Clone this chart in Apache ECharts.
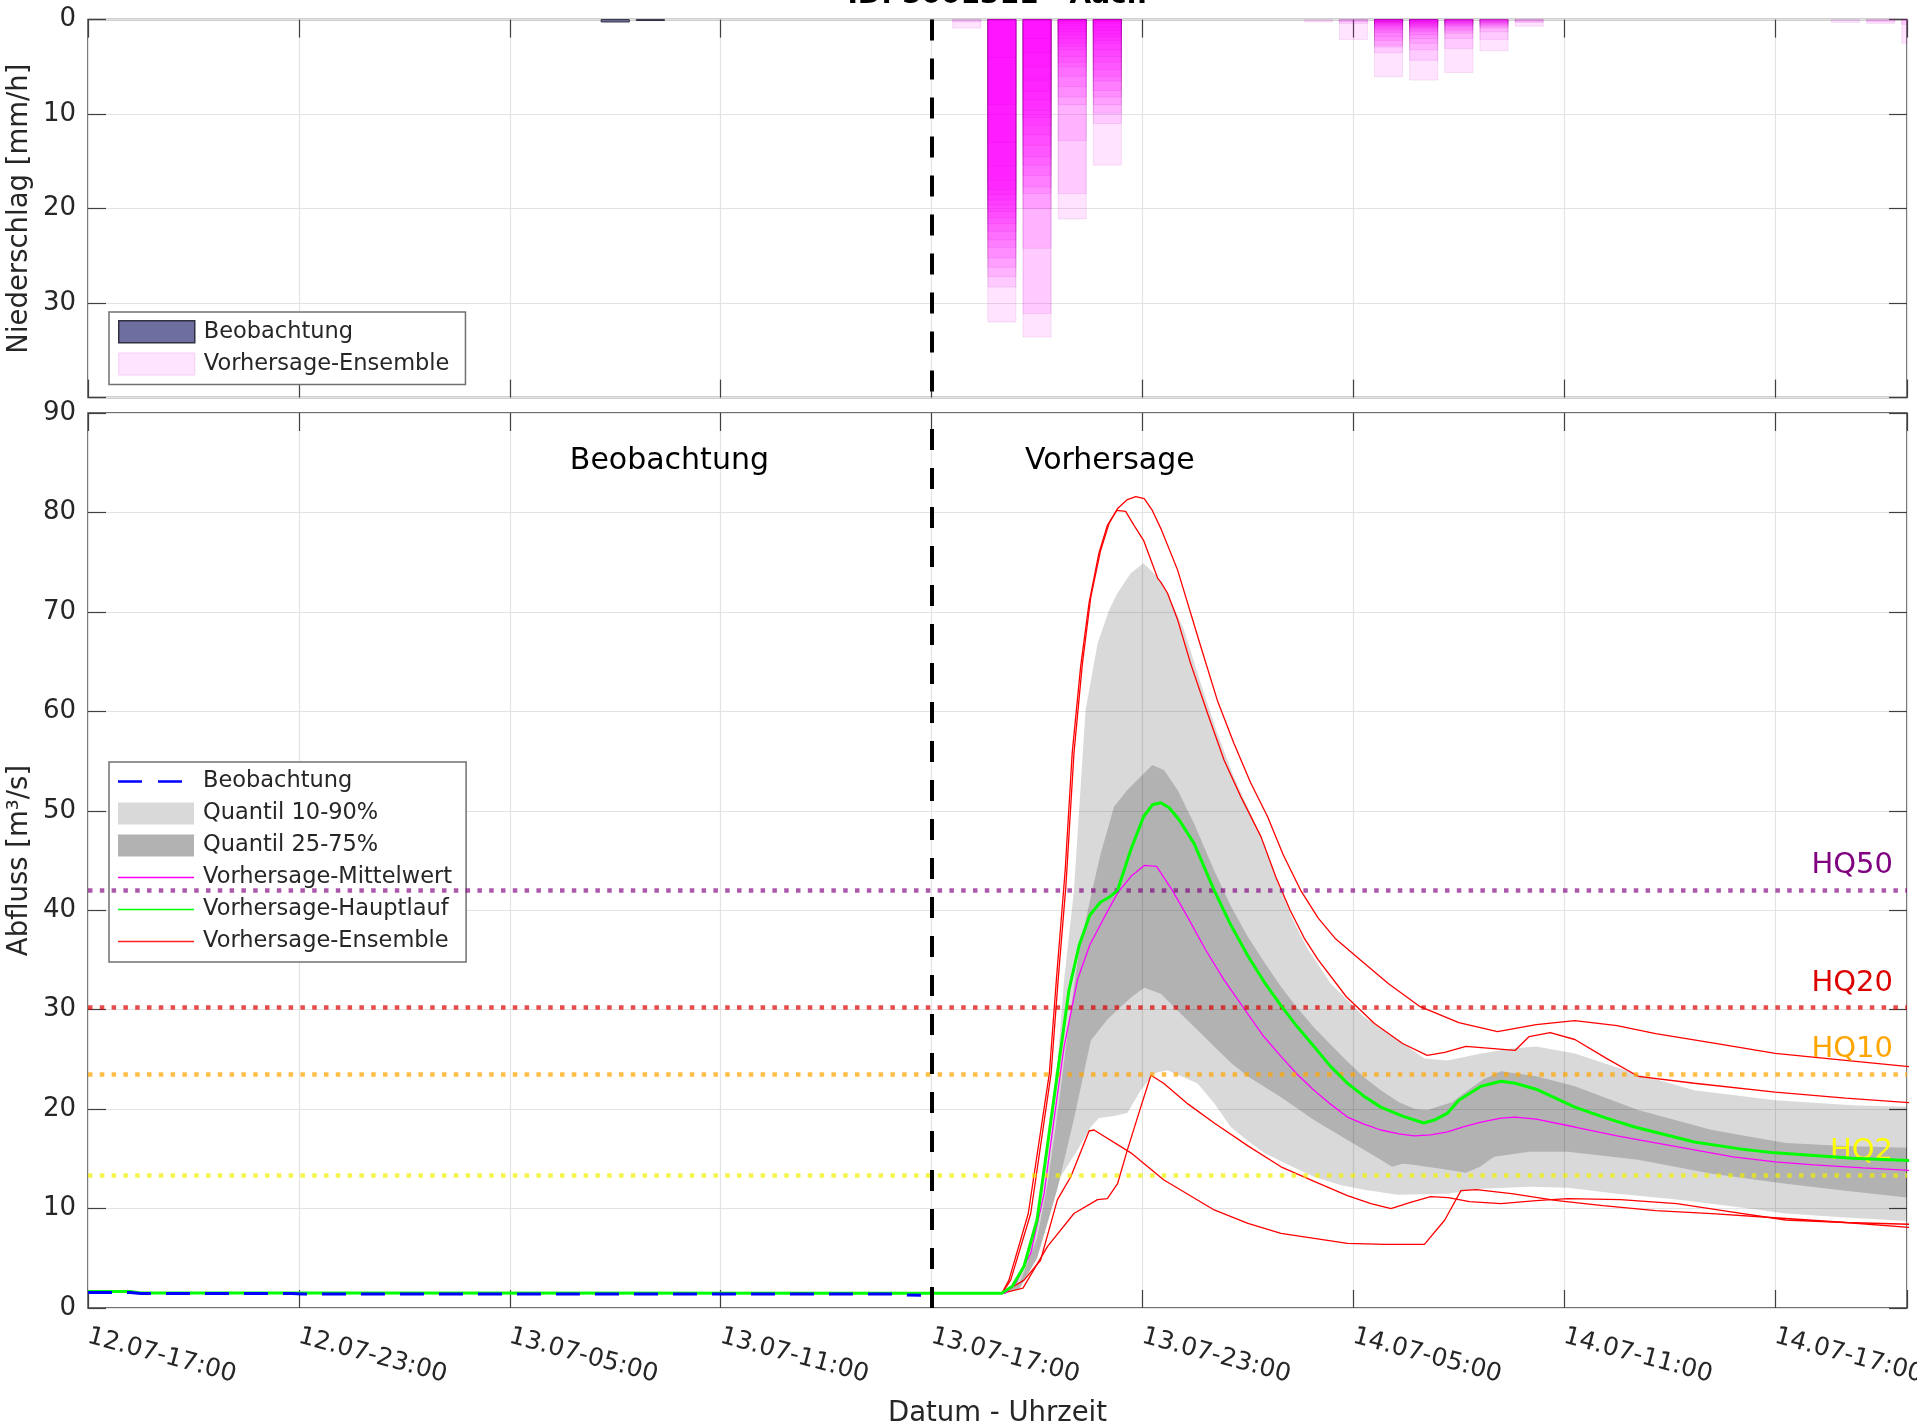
<!DOCTYPE html>
<html>
<head>
<meta charset="utf-8">
<title>ID: 5001311 - Aach</title>
<script src="https://cdn.jsdelivr.net/npm/echarts@6/dist/echarts.min.js"></script>
<style>
  html, body { margin: 0; padding: 0; background: #fff; }
  #chart { width: 1917px; height: 1423px; }
</style>
</head>
<body>
<div id="chart"></div>
<script>
// Zeitachse in Stunden ab 12.07 17:00
var startDay = 12, startHour = 17;
var forecastStart = 24;
var hoursShown = 51.75;

// Niederschlag (mm/h), Ensemble-Mitglieder je Stunde
var ensHours = [25, 26, 27, 28, 29, 35, 36, 37, 38, 39, 40, 41, 50, 51, 52];
var ensPrecip = [
	[0.9, 0.25],
	[32.0, 28.3, 27.2, 26.2, 25.2, 24.1, 23.3, 22.4, 21.6, 21.0, 20.3, 19.6, 19.1, 18.5, 18.0, 17.0, 15.5, 13.0, 9.0, 4.0],
	[33.6, 31.1, 24.2, 20.0, 18.4, 17.7, 16.5, 15.4, 14.5, 13.3, 12.2, 11.2, 10.4, 9.6, 8.5, 7.6, 6.4, 5.0, 3.5, 2.0],
	[21.1, 18.4, 12.8, 9.0, 8.2, 7.1, 6.0, 5.0, 4.5, 3.9, 3.2, 2.8, 2.5, 2.0, 1.6, 1.3, 1.0, 0.7, 0.4, 0.2],
	[15.4, 11.0, 9.9, 9.0, 8.2, 7.5, 6.5, 6.0, 5.3, 4.5, 3.9, 3.2, 2.5, 2.2, 1.8, 1.5, 1.1, 0.8, 0.4, 0.2],
	[0.25],
	[2.1, 0.4, 0.2],
	[6.05, 3.5, 2.9, 2.7, 2.2, 1.8, 1.35, 1.1, 0.9, 0.7, 0.6, 0.5, 0.4, 0.35, 0.3, 0.25, 0.2, 0.15],
	[6.4, 4.3, 3.2, 2.5, 2.0, 1.6, 1.3, 1.1, 0.9, 0.8, 0.7, 0.6, 0.5, 0.4, 0.35, 0.3, 0.2, 0.15],
	[5.6, 3.05, 2.0, 1.45, 1.2, 1.0, 0.75, 0.6, 0.5, 0.4, 0.35, 0.3, 0.2, 0.15],
	[3.3, 2.1, 1.3, 0.9, 0.75, 0.6, 0.5, 0.4, 0.3, 0.25, 0.2],
	[0.7, 0.3, 0.2],
	[0.3],
	[0.4, 0.2],
	[2.5, 0.5]
];
var obsPrecipHours = [15, 16];
var obsPrecip = [0.25, 0.1];

// Abfluss (m3/s) als [Stunde, Wert]
var obsFlow = [[0, 1.55], [1.2, 1.55], [1.5, 1.45], [5.8, 1.45], [6.1, 1.41], [23, 1.41], [23.3, 1.3], [23.7, 1.28]];

var mainRun = [[0, 1.65], [1.2, 1.65], [1.5, 1.52], [6, 1.5], [24, 1.48], [26, 1.48], [26.3, 2.2], [26.63, 4.2], [27.0, 8.85],
	[27.29, 16.2], [27.58, 23.6], [27.91, 32.0], [28.2, 36.5], [28.5, 39.5], [28.8, 40.8], [29.05, 41.3], [29.29, 42.0],
	[29.67, 46.1], [30.03, 49.4], [30.28, 50.6], [30.52, 50.8], [30.76, 50.3], [31.04, 49.1], [31.47, 46.7], [32.04, 42.0],
	[32.5, 38.6], [33.0, 35.4], [33.46, 32.8], [33.94, 30.4], [34.4, 28.3], [34.88, 26.3], [35.35, 24.3], [35.83, 22.6],
	[36.3, 21.3], [36.78, 20.2], [37.4, 19.3], [38.0, 18.6], [38.3, 18.9], [38.68, 19.6], [39.0, 20.9], [39.63, 22.3],
	[40.2, 22.8], [40.6, 22.6], [41.2, 22.0], [42.3, 20.2], [43.2, 19.1], [44.0, 18.2], [45.7, 16.7], [47, 16.0],
	[48.0, 15.6], [50.2, 15.05], [52, 14.8]];

var meanRun = [[24, 1.48], [26.1, 1.48], [26.4, 2.5], [26.82, 5.5], [27.2, 11.5], [27.48, 18.9], [27.77, 26.3], [28.15, 33.0],
	[28.5, 36.5], [28.9, 39.2], [29.3, 41.8], [29.7, 43.5], [30.05, 44.5], [30.4, 44.4], [30.85, 42.0], [31.3, 39.2],
	[31.8, 36.0], [32.32, 33.0], [32.99, 29.6], [33.45, 27.3], [33.94, 25.3], [34.4, 23.5], [34.88, 21.9], [35.35, 20.5],
	[35.83, 19.2], [36.3, 18.5], [36.78, 17.9], [37.3, 17.5], [37.73, 17.3], [38.2, 17.4], [38.68, 17.7], [39.1, 18.2],
	[39.63, 18.7], [40.2, 19.1], [40.6, 19.2], [41.2, 19.0], [42.3, 18.2], [43.5, 17.3], [44.6, 16.6], [45.7, 15.9],
	[46.8, 15.2], [48, 14.7], [49.1, 14.4], [50.5, 14.1], [52, 13.8]];

var q90 = [[24, 1.48], [26, 1.5], [26.5, 3.0], [27.0, 9.5], [27.29, 16.2], [27.58, 24.6], [27.77, 33.0], [28.05, 42.0],
	[28.38, 60.1], [28.72, 66.8], [29.05, 70.2], [29.29, 71.9], [29.67, 73.9], [30.03, 74.9], [30.43, 73.5], [30.71, 71.9],
	[31.18, 68.2], [31.66, 62.8], [32.13, 57.8], [32.6, 53.4], [33.08, 49.7], [33.46, 46.7], [33.9, 42.3], [34.3, 38.9],
	[34.7, 36.1], [35.36, 32.6], [36.3, 29.3], [37.26, 27.0], [38.02, 25.1], [38.68, 24.9], [39.63, 25.6], [40.5, 26.1],
	[41.2, 26.3], [42.3, 25.6], [44.0, 23.6], [45.7, 21.9], [48.0, 20.9], [50.2, 20.4], [52, 20.2]];
var q10 = [[24, 1.48], [26, 1.48], [26.5, 2.0], [27.0, 5.0], [27.3, 8.5], [27.67, 13.2], [28.15, 15.9], [28.53, 18.2],
	[28.76, 19.1], [29.2, 19.3], [29.57, 19.6], [29.95, 21.9], [30.33, 23.6], [30.71, 23.9], [31.09, 23.3], [31.56, 22.6],
	[32.04, 20.6], [32.51, 18.2], [33.0, 16.8], [33.46, 15.6], [34.2, 14.3], [34.88, 13.2], [35.6, 12.4], [36.3, 11.9],
	[37.26, 11.4], [38.68, 11.5], [39.63, 12.0], [41.0, 12.2], [42.1, 12.1], [43.5, 11.5], [45.2, 10.9], [46.8, 10.2],
	[48.3, 9.5], [50, 9.1], [52, 8.7]];
var q75 = [[24, 1.48], [26, 1.48], [26.5, 2.5], [27.0, 7.0], [27.3, 12.5], [27.6, 20.0], [27.9, 28.5], [28.2, 36.0],
	[28.57, 42.0], [28.81, 45.7], [29.19, 50.4], [29.57, 52.1], [30.05, 53.8], [30.28, 54.6], [30.61, 54.1], [31.0, 52.1],
	[31.47, 48.7], [32.04, 44.0], [32.5, 40.5], [33.0, 37.3], [33.46, 34.8], [33.94, 32.3], [34.4, 30.2], [34.88, 28.2],
	[35.35, 26.5], [35.83, 24.8], [36.3, 23.2], [36.78, 21.9], [37.3, 20.7], [37.75, 20.0], [38.1, 19.9], [38.8, 20.7],
	[39.3, 22.0], [39.7, 23.0], [40.2, 23.8], [41.2, 23.3], [42.3, 22.3], [44.1, 19.9], [46.2, 17.9], [48.3, 16.6],
	[50, 16.3], [52, 16.1]];
var q25 = [[24, 1.48], [26, 1.48], [26.5, 1.9], [27.0, 5.0], [27.58, 12.0], [28.05, 19.0], [28.53, 26.9], [29.0, 29.0],
	[29.38, 30.3], [29.7, 31.3], [30.05, 32.2], [30.52, 31.6], [31.09, 29.6], [31.55, 28.0], [32.04, 26.3], [32.5, 24.7],
	[32.99, 23.3], [33.94, 21.2], [34.88, 18.9], [35.83, 16.9], [36.78, 14.9], [37.1, 14.2], [37.4, 14.5], [37.7, 14.4],
	[38.68, 13.9], [39.2, 13.6], [39.6, 14.2], [40.0, 15.2], [41.0, 15.7], [42.1, 15.7], [44.1, 14.9], [46.2, 13.5],
	[48.3, 12.5], [50, 11.8], [52, 11.0]];

var ens1 = [[24, 1.48], [26, 1.48], [26.25, 2.8], [26.82, 9.5], [27.4, 23.6], [27.6, 33.0], [27.82, 42.4], [28.05, 55.8],
	[28.29, 64.8], [28.53, 71.5], [28.81, 76.2], [29.05, 78.9], [29.29, 80.4], [29.57, 81.3], [29.81, 81.6], [30.05, 81.4],
	[30.28, 80.2], [30.52, 78.4], [31.0, 74.2], [31.66, 66.5], [32.13, 61.1], [32.6, 56.8], [33.08, 52.8], [33.56, 49.4],
	[34.0, 45.6], [34.5, 42.0], [35.0, 39.2], [35.5, 37.1], [36.2, 35.0], [37.0, 32.6], [37.9, 30.3], [39.0, 28.7],
	[40.1, 27.8], [41.2, 28.5], [42.3, 28.9], [43.5, 28.4], [44.6, 27.6], [46.3, 26.6], [48.0, 25.6], [50, 24.9], [52, 24.2]];
var ens2 = [[24, 1.48], [26, 1.48], [26.2, 2.8], [26.75, 9.5], [27.35, 23.6], [27.55, 33.0], [27.8, 44.0], [28.0, 55.8],
	[28.24, 64.5], [28.48, 70.9], [28.76, 75.9], [29.0, 78.7], [29.27, 80.2], [29.52, 80.1], [29.76, 78.7], [30.03, 77.2],
	[30.43, 73.4], [30.52, 73.0], [30.71, 71.9], [31.0, 69.2], [31.37, 64.8], [31.85, 59.8], [32.32, 55.1], [32.8, 51.4],
	[33.37, 47.4], [33.8, 43.3], [34.2, 40.0], [34.6, 37.2], [35.0, 35.0], [35.8, 31.3], [36.6, 28.6], [37.4, 26.6],
	[38.1, 25.4], [38.6, 25.7], [39.2, 26.3], [39.9, 26.1], [40.6, 25.9], [41.0, 27.3], [41.6, 27.7], [42.3, 27.0],
	[43.2, 25.1], [44.1, 23.3], [45.7, 22.6], [48, 21.7], [50, 21.1], [52, 20.6]];
var ens3 = [[24, 1.48], [26, 1.48], [26.63, 2.8], [27.1, 4.8], [27.58, 10.9], [27.96, 13.2], [28.48, 17.8], [28.62, 17.9],
	[29.67, 15.6], [30.6, 12.9], [32.04, 9.86], [33.0, 8.5], [33.94, 7.5], [35.83, 6.5], [36.9, 6.4], [38.02, 6.4],
	[38.6, 8.85], [39.06, 11.8], [39.5, 11.9], [40.5, 11.5], [41.8, 10.8], [43.1, 10.3], [44.6, 9.8], [46.2, 9.5],
	[48.3, 9.0], [50, 8.6], [52, 8.05]];
var ens4 = [[24, 1.48], [26, 1.48], [26.6, 2.0], [27.3, 6.2], [28.05, 9.5], [28.72, 10.9], [29.0, 11.0], [29.29, 12.5],
	[29.57, 15.9], [29.95, 20.2], [30.24, 23.4], [30.6, 22.6], [31.3, 20.5], [32.04, 18.6], [33.0, 16.3], [33.94, 14.2],
	[34.9, 12.7], [35.83, 11.3], [36.5, 10.5], [37.07, 10.0], [37.6, 10.6], [38.2, 11.2], [38.7, 11.1], [39.3, 10.7],
	[40.2, 10.5], [41.2, 10.8], [42.1, 11.0], [43.6, 10.9], [45.2, 10.5], [46.7, 9.7], [48.3, 8.85], [50, 8.6], [52, 8.4]];

// Hochwasser-Schwellen
var hqNames = ['HQ50', 'HQ20', 'HQ10', 'HQ2'];
var hqLevels = [42.0, 30.2, 23.5, 13.3];

var hqColors = ['#800080', '#dd0000', '#ffa500', '#ffff00'];
var hqDotColors = ['rgba(128,0,128,0.65)', 'rgba(221,0,0,0.7)', 'rgba(255,165,0,0.72)', 'rgba(240,240,0,0.7)'];
var font = 'DejaVu Sans';
var textColor = '#262626';

/**
 * @desc Stunde -> "TT.MM-HH:00"
 */
var timeLabel = function(h) {
	if(h % 6 !== 0) return '';
	var total = startHour + h;
	var day = startDay + Math.floor(total / 24);
	var hour = total % 24;
	return day + '.07-' + (hour < 10 ? '0' : '') + hour + ':00';
};

var clipRect = function(cs) {
	return { type: 'rect', shape: { x: cs.x, y: cs.y, width: cs.width, height: cs.height } };
};

// Flaeche zwischen zwei Quantilen als Polygon
var bandRenderer = function(fill) {
	return function(params, api) {
		if(params.dataIndexInside !== 0) return null;
		var pts = [];
		for(var i = 0; i < params.dataInsideLength; i++) {
			pts.push(api.coord([api.value(0, i), api.value(1, i)]));
		}
		return {
			type: 'polygon',
			shape: { points: pts },
			style: { fill: fill },
			clipPath: clipRect(params.coordSys)
		};
	};
};

// Niederschlagsbalken, von oben haengend
var precipRenderer = function(fill, stroke) {
	return function(params, api) {
		var t = api.value(0), v = api.value(1);
		var cs = params.coordSys;
		var a = api.coord([t - 0.4, 0]);
		var b = api.coord([t + 0.4, v]);
		var x1 = Math.min(b[0], cs.x + cs.width);
		return {
			type: 'rect',
			shape: { x: a[0], y: a[1], width: x1 - a[0], height: b[1] - a[1] },
			style: { fill: fill, stroke: stroke, lineWidth: 1 }
		};
	};
};

var ensData = [];
for(var i = 0; i < ensHours.length; i++) {
	for(var j = 0; j < ensPrecip[i].length; j++) {
		ensData.push([ensHours[i], ensPrecip[i][j]]);
	}
}
var obsPrecipData = obsPrecipHours.map(function(h, i) {
	return [h, obsPrecip[i]];
});

var hqMarks = hqNames.map(function(name, i) {
	return {
		name: name,
		yAxis: hqLevels[i],
		lineStyle: { color: hqDotColors[i], width: 4.5, type: [4.5, 7.3] },
		label: { color: hqColors[i] }
	};
});

var forecastLine = {
	silent: true,
	animation: false,
	symbol: ['none', 'none'],
	z: 10,
	label: { show: false },
	lineStyle: { color: '#000', width: 4, type: [21, 18] },
	data: [{ xAxis: forecastStart }]
};

var tickStyle = { show: true, inside: true, length: 18, lineStyle: { color: '#404040', width: 1.2 } };
var gridLine = { show: true, lineStyle: { color: '#e3e3e3', width: 1.2 } };

var xBase = function(grid, pos) {
	return {
		type: 'value', gridIndex: grid, position: pos, min: 0, max: hoursShown, interval: 6,
		axisLine: { show: false, onZero: false }, axisTick: tickStyle, axisLabel: { show: false },
		splitLine: { show: false }
	};
};
var yBase = function(grid, pos, max, inverse) {
	return {
		type: 'value', gridIndex: grid, position: pos, min: 0, max: max, interval: 10, inverse: inverse,
		axisLine: { show: false, onZero: false }, axisTick: tickStyle, axisLabel: { show: false },
		splitLine: { show: false }
	};
};

var xTop = xBase(0, 'bottom');
xTop.splitLine = gridLine;
var xBottom = xBase(1, 'bottom');
xBottom.splitLine = gridLine;
xBottom.axisLabel = {
	show: true, rotate: -15, margin: 28, fontSize: 25, color: textColor, fontFamily: font,
	formatter: timeLabel
};
xBottom.name = 'Datum - Uhrzeit';
xBottom.nameLocation = 'middle';
xBottom.nameGap = 92;
xBottom.nameMoveOverlap = false;
xBottom.nameTextStyle = { fontSize: 27.5, color: textColor, fontFamily: font };

var yTop = yBase(0, 'left', 40, true);
yTop.splitLine = gridLine;
yTop.axisLabel = {
	show: true, margin: 12, fontSize: 26, color: textColor, fontFamily: font,
	formatter: function(v) { return v === 40 ? '' : v; }
};
yTop.name = 'Niederschlag [mm/h]';
yTop.nameLocation = 'middle';
yTop.nameGap = 54;
yTop.nameMoveOverlap = false;
yTop.nameTextStyle = { fontSize: 27.5, color: textColor, fontFamily: font };

var yBottom = yBase(1, 'left', 90, false);
yBottom.splitLine = gridLine;
yBottom.axisLabel = { show: true, margin: 12, fontSize: 26, color: textColor, fontFamily: font };
yBottom.name = 'Abfluss [m³/s]';
yBottom.nameLocation = 'middle';
yBottom.nameGap = 54;
yBottom.nameMoveOverlap = false;
yBottom.nameTextStyle = { fontSize: 27.5, color: textColor, fontFamily: font };

var ensLine = function(data) {
	return {
		name: 'Vorhersage-Ensemble', type: 'line', xAxisIndex: 2, yAxisIndex: 2, data: data,
		symbol: 'none', z: 3, lineStyle: { color: '#ff0000', width: 1.3 }, itemStyle: { color: '#ff0000' }
	};
};

// Legenden-Symbole fuer Linien
var solidIcon = 'path://M0,0H76V1.6H0Z';
var dashIcon = 'path://M0,0H24V2.4H0Z M40,0H64V2.4H40Z M76,0L76,2.4';

var legendNames = {
	'N-Beobachtung': 'Beobachtung',
	'N-Ensemble': 'Vorhersage-Ensemble'
};

var chart = echarts.init(document.getElementById('chart'), null, { renderer: 'canvas', devicePixelRatio: 1 });
chart.setOption({
	animation: false,
	backgroundColor: '#fff',
	textStyle: { fontFamily: font },
	title: {
		text: 'ID: 5001311 - Aach',
		left: 992, top: -23, textAlign: 'center',
		textStyle: { fontSize: 28, fontWeight: 'bold', color: '#000', fontFamily: font }
	},
	grid: [{
		left: 88, right: 10, top: 19.6, height: 378,
		show: true, borderColor: '#404040', borderWidth: 1.5, outerBoundsMode: 'none'
	}, {
		left: 88, right: 10, top: 413, bottom: 115,
		show: true, borderColor: '#404040', borderWidth: 1.5, outerBoundsMode: 'none'
	}],
	xAxis: [xTop, xBase(0, 'top'), xBottom, xBase(1, 'top')],
	yAxis: [yTop, yBase(0, 'right', 40, true), yBottom, yBase(1, 'right', 90, false)],
	legend: [{
		orient: 'vertical', left: 109, top: 312, padding: [8, 16, 9, 9],
		itemGap: 9, itemWidth: 76, itemHeight: 22, selectedMode: false, symbolKeepAspect: true,
		backgroundColor: '#fff', borderColor: '#707070', borderWidth: 1.5,
		textStyle: { fontSize: 22.5, color: textColor, fontFamily: font, padding: [0, 0, 0, 4] },
		formatter: function(name) { return legendNames[name]; },
		data: [
			{ name: 'N-Beobachtung', icon: 'rect', itemStyle: { color: '#6e6ea0', borderColor: '#303040', borderWidth: 1.5 } },
			{ name: 'N-Ensemble', icon: 'rect', itemStyle: { color: '#ffe4ff', borderColor: '#f6cdf6', borderWidth: 1 } }
		]
	}, {
		orient: 'vertical', left: 109, top: 762, padding: [8, 14, 9, 9],
		itemGap: 9, itemWidth: 76, itemHeight: 22, selectedMode: false, symbolKeepAspect: true,
		backgroundColor: '#fff', borderColor: '#707070', borderWidth: 1.5,
		textStyle: { fontSize: 22.5, color: textColor, fontFamily: font, padding: [0, 0, 0, 4] },
		data: [
			{ name: 'Beobachtung', icon: dashIcon, itemStyle: { color: '#0000ff', borderWidth: 0 } },
			{ name: 'Quantil 10-90%', icon: 'rect', itemStyle: { color: '#d9d9d9', borderWidth: 0 } },
			{ name: 'Quantil 25-75%', icon: 'rect', itemStyle: { color: '#b2b2b2', borderWidth: 0 } },
			{ name: 'Vorhersage-Mittelwert', icon: solidIcon, itemStyle: { color: '#ff00ff', borderWidth: 0 } },
			{ name: 'Vorhersage-Hauptlauf', icon: solidIcon, itemStyle: { color: '#00ff00', borderWidth: 0 } },
			{ name: 'Vorhersage-Ensemble', icon: solidIcon, itemStyle: { color: '#ff2020', borderWidth: 0 } }
		]
	}],
	series: [{
		name: 'N-Ensemble', type: 'custom', xAxisIndex: 0, yAxisIndex: 0,
		data: ensData, z: 2,
		itemStyle: { color: '#ffe4ff' },
		renderItem: precipRenderer('rgba(255,0,255,0.11)', 'rgba(160,0,160,0.10)'),
		markLine: forecastLine
	}, {
		name: 'N-Beobachtung', type: 'custom', xAxisIndex: 0, yAxisIndex: 0,
		data: obsPrecipData, z: 3,
		itemStyle: { color: '#6e6ea0' },
		renderItem: precipRenderer('#6e6ea0', '#303040')
	}, {
		name: 'Quantil 10-90%', type: 'custom', xAxisIndex: 2, yAxisIndex: 2,
		data: q90.concat(q10.slice().reverse()), z: 1,
		itemStyle: { color: '#d9d9d9' },
		renderItem: bandRenderer('rgba(0,0,0,0.15)')
	}, {
		name: 'Quantil 25-75%', type: 'custom', xAxisIndex: 2, yAxisIndex: 2,
		data: q75.concat(q25.slice().reverse()), z: 1,
		itemStyle: { color: '#b2b2b2' },
		renderItem: bandRenderer('rgba(0,0,0,0.18)')
	},
	ensLine(ens1), ensLine(ens2), ensLine(ens3), ensLine(ens4),
	{
		name: 'Vorhersage-Mittelwert', type: 'line', xAxisIndex: 2, yAxisIndex: 2, data: meanRun,
		symbol: 'none', z: 4, lineStyle: { color: '#ff00ff', width: 1.3 }, itemStyle: { color: '#ff00ff' },
		markLine: {
			silent: true, animation: false, symbol: ['none', 'none'],
			label: {
				show: true, position: 'insideEndTop', formatter: '{b}', distance: [14, 10],
				fontSize: 29, fontFamily: font
			},
			data: hqMarks
		}
	}, {
		name: 'Vorhersage-Hauptlauf', type: 'line', xAxisIndex: 2, yAxisIndex: 2, data: mainRun,
		symbol: 'none', z: 5, lineStyle: { color: '#00ff00', width: 3 }, itemStyle: { color: '#00ff00' }
	}, {
		name: 'Beobachtung', type: 'line', xAxisIndex: 2, yAxisIndex: 2, data: obsFlow,
		symbol: 'none', z: 6, lineStyle: { color: '#0000ff', width: 3, type: [24, 15] }, itemStyle: { color: '#0000ff' },
		markLine: forecastLine,
		markPoint: {
			silent: true, animation: false, symbol: 'circle', symbolSize: 1,
			itemStyle: { color: 'rgba(0,0,0,0)' },
			label: { show: true, position: 'inside', formatter: '{b}', fontSize: 30, color: '#000', fontFamily: font },
			data: [
				{ name: 'Beobachtung', coord: [16.54, 85.2] },
				{ name: 'Vorhersage', coord: [29.07, 85.2] }
			]
		}
	}]
});
</script>
</body>
</html>
